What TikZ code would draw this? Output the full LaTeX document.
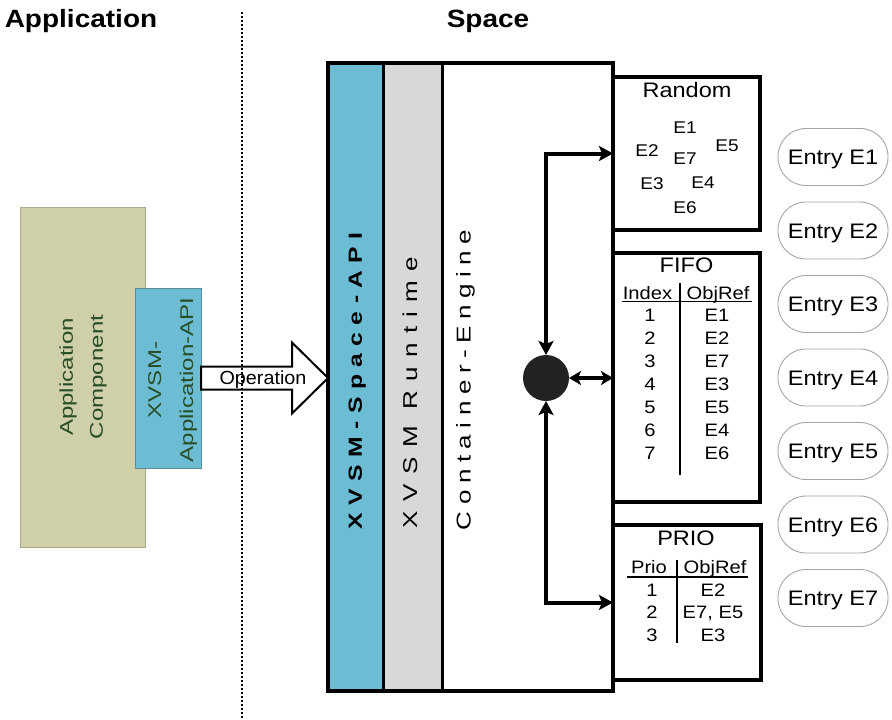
\documentclass[tikz,border=0pt]{standalone}
\usepackage{fontspec}
\setmainfont{Liberation Sans}
\usepackage{graphicx}
\usetikzlibrary{arrows.meta}
\newcommand\hs[1]{\scalebox{1.12}[1]{#1}}
\newcommand\vst[1]{\scalebox{1.3}[1]{#1}}
\definecolor{khaki}{RGB}{207,207,170}
\definecolor{khakiedge}{RGB}{170,170,140}
\definecolor{apiblue}{RGB}{108,189,212}
\definecolor{apiedge}{RGB}{90,140,150}
\definecolor{rtgray}{RGB}{216,216,216}
\definecolor{txtgreen}{RGB}{40,78,40}
\definecolor{dotc}{RGB}{34,34,34}
\definecolor{entryedge}{RGB}{165,165,165}
\tikzset{
  every node/.style={inner sep=0pt, outer sep=0pt},
  fa/.style={font=\fontsize{17}{20}\selectfont, text height=12.2pt, text depth=0pt},
  fb/.style={font=\fontsize{18}{22}\selectfont, text height=12.9pt, text depth=0pt},
  fc/.style={font=\fontsize{19}{23}\selectfont, text height=13.6pt, text depth=0pt},
  fd/.style={font=\fontsize{21}{25}\selectfont, text height=15pt, text depth=0pt},
  headtxt/.style={font=\fontsize{25}{30}\selectfont\bfseries, text height=17.9pt, text depth=0pt},
  cbox/.style={draw, line width=4pt, fill=white},
  entrybox/.style={draw=entryedge, line width=0.9pt, rounded corners=28pt, minimum width=110pt, minimum height=57pt, fill=white, fd},
  arr/.style={line width=4pt, {Stealth[length=14pt,width=15pt,inset=3pt]}-{Stealth[length=14pt,width=15pt,inset=3pt]}},
  sarr/.style={line width=4pt, {Stealth[length=12pt,width=14pt,inset=3pt]}-{Stealth[length=12pt,width=14pt,inset=3pt]}},
}
\begin{document}
\begin{tikzpicture}[x=1pt,y=-1pt]
\useasboundingbox (0,0) rectangle (892,720);
\fill[white] (0,0) rectangle (892,720);

% headings
\node[headtxt, anchor=center] (happ) at (81,19) {\hs{Application}};
\node[headtxt, anchor=center] (hspace) at (488,19) {\hs{Space}};

% application side
\node[fill=khaki, draw=khakiedge, line width=1pt, minimum width=125pt, minimum height=340pt] (appc) at (82.5,377) {};
\node[rotate=90, align=center, font=\fontsize{18.5}{30}\selectfont, text=txtgreen] (appctext) at (83,377) {\vst{Application}\\\vst{Component}};
\node[fill=apiblue, draw=apiedge, line width=1pt, minimum width=66pt, minimum height=180pt] (api) at (168,378) {};
\node[rotate=90, align=center, font=\fontsize{18.5}{32}\selectfont, text=txtgreen] (apitext) at (172.5,380) {\vst{XVSM-}\\\vst{Application-API}};

% space box columns
\node[fill=apiblue, minimum width=55pt, minimum height=628pt] (spapi) at (355.5,377) {};
\node[fill=rtgray, minimum width=59pt, minimum height=628pt] (rt) at (412.5,377) {};
\node[fill=white, minimum width=171pt, minimum height=628pt] (ce) at (527.5,377) {};
\draw[line width=3pt] (spapi.north east) -- (spapi.south east);
\draw[line width=3pt] (rt.north east) -- (rt.south east);
\node[draw, line width=4pt, minimum width=285pt, minimum height=628pt] (sp) at (470.5,377) {};

\node[rotate=90, anchor=west, font=\fontsize{19}{22}\selectfont\bfseries\addfontfeature{LetterSpace=30}, text height=13.6pt, text depth=0pt] (spapitext) at (355,529) {\vst{XVSM-Space-API}};
\node[rotate=90, anchor=west, font=\fontsize{20}{24}\selectfont\addfontfeature{LetterSpace=36}, text height=14.3pt, text depth=0pt] (rttext) at (410,528) {\vst{XVSM Runtime}};
\node[rotate=90, anchor=west, font=\fontsize{20}{24}\selectfont\addfontfeature{LetterSpace=25}, text height=14.3pt, text depth=0pt] (cetext) at (463.5,530) {\vst{Container-Engine}};

% operation arrow
\draw[line width=2pt, fill=white, line join=miter] (api.east) ++(0,-11.5) -- ++(91,0) -- ++(0,-24) -- (sp.west |- api.east) -- ++(-36,35.5) -- ++(0,-24) -- ++(-91,0) -- cycle;
\node[fc] (op) at (263,378) {\scalebox{1.04}[1]{Operation}};

% dotted separator
\coordinate (dtop) at (242,12);
\coordinate (dbot) at (242,720);
\draw[line width=2.2pt, dash pattern=on 2pt off 2pt] (dtop) -- (dbot);

% container boxes
\node[cbox, minimum width=147pt, minimum height=153pt] (rnd) at (686.5,153.5) {};
\node[cbox, minimum width=147pt, minimum height=249pt] (fifo) at (686.5,377.5) {};
\node[cbox, minimum width=148pt, minimum height=155pt] (prio) at (687,602.5) {};

% random contents
\node[fd] (rndt) at (687,90) {\hs{Random}};
\node[fa] (r1) at (685,127) {\hs{E1}};
\node[fa] (r2) at (647,150) {\hs{E2}};
\node[fa] (r7) at (685,158) {\hs{E7}};
\node[fa] (r5) at (727,145) {\hs{E5}};
\node[fa] (r3) at (652,183) {\hs{E3}};
\node[fa] (r4) at (703,182) {\hs{E4}};
\node[fa] (r6) at (685,207) {\hs{E6}};

% FIFO contents
\node[fd] (fifot) at (686.5,265) {\hs{FIFO}};
\node[fb] (fh1) at (647.5,293) {\hs{Index}};
\node[fb] (fh2) at (718,293) {\hs{ObjRef}};
\draw[line width=1.6pt] (622,301.5) -- (752,301.5);
\draw[line width=2.2pt] (680,283) -- (680,475);
\foreach \a/\b [count=\k] in {1/E1,2/E2,3/E7,4/E3,5/E5,6/E4,7/E6} {
  \node[fb] at (650,{292+23*\k}) {\hs{\a}};
  \node[fb] at (717,{292+23*\k}) {\hs{\b}};
}

% PRIO contents
\node[fd] (priot) at (686,538) {\hs{PRIO}};
\node[fb] (ph1) at (649,567) {\hs{Prio}};
\node[fb] (ph2) at (715,567) {\hs{ObjRef}};
\draw[line width=1.6pt] (627,577) -- (748,577);
\draw[line width=2.2pt] (677,560) -- (677,643);
\foreach \a/\b [count=\k] in {1/E2,2/{E7, E5},3/E3} {
  \node[fb] at (652,{567.5+22.5*\k}) {\hs{\a}};
  \node[fb] at (713,{567.5+22.5*\k}) {\hs{\b}};
}

% dot and connectors
\node[circle, fill=dotc, minimum size=46pt] (dot) at (546,378) {};
\draw[arr] (dot.north) |- (rnd.west);
\draw[arr] (dot.south) |- (prio.west);
\draw[sarr] (dot.east) -- (dot.east -| fifo.west);

% entries
\foreach \k in {1,...,7} {
  \node[entrybox] (e\k) at (833,{157+73.5*(\k-1)}) {\hs{Entry E\k}};
}
\end{tikzpicture}
\end{document}
